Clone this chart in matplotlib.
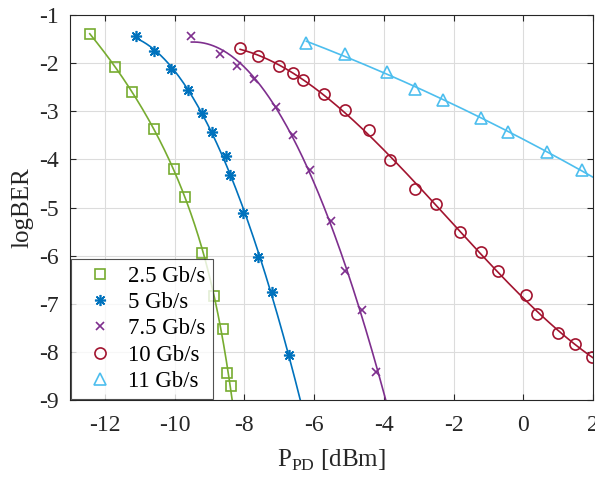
import matplotlib
matplotlib.use('Agg')
import matplotlib.pyplot as plt
import numpy as np

plt.rcParams['font.family'] = ['Liberation Serif', 'DejaVu Serif']
plt.rcParams['mathtext.fontset'] = 'custom'
plt.rcParams['mathtext.rm'] = 'Liberation Serif'
plt.rcParams['axes.unicode_minus'] = False

# measured points, P_PD [dBm] vs logBER
x25 = [-12.43, -11.71, -11.22, -10.60, -10.01, -9.71, -9.21, -8.88, -8.61, -8.51, -8.39]
y25 = [-1.39, -2.09, -2.59, -3.37, -4.20, -4.79, -5.95, -6.84, -7.53, -8.43, -8.70]

x5 = [-11.11, -10.60, -10.11, -9.62, -9.21, -8.92, -8.52, -8.40, -8.04, -7.62, -7.22, -6.72]
y5 = [-1.44, -1.75, -2.12, -2.56, -3.04, -3.44, -3.92, -4.33, -5.11, -6.02, -6.75, -8.07]

x75 = [-9.52, -8.71, -8.20, -7.72, -7.10, -6.61, -6.12, -5.52, -5.10, -4.62, -4.22]
y75 = [-1.44, -1.80, -2.05, -2.34, -2.91, -3.50, -4.22, -5.29, -6.31, -7.12, -8.42]

x10 = [-8.12, -7.62, -7.01, -6.61, -6.31, -5.72, -5.12, -4.42, -3.81, -3.11,
       -2.51, -1.82, -1.22, -0.73, 0.08, 0.38, 0.99, 1.48, 1.97]
y10 = [-1.69, -1.86, -2.07, -2.20, -2.36, -2.64, -2.97, -3.39, -4.02, -4.62,
       -4.93, -5.51, -5.93, -6.32, -6.81, -7.21, -7.61, -7.84, -8.10]

x11 = [-6.22, -5.11, -3.92, -3.11, -2.31, -1.22, -0.43, 0.67, 1.68]
y11 = [-1.59, -1.80, -2.19, -2.53, -2.77, -3.13, -3.43, -3.84, -4.23]

c_green = '#77AC30'
c_blue = '#0072BD'
c_purple = '#7E2F8E'
c_red = '#A2142F'
c_cyan = '#4DBEEE'

fig = plt.figure(figsize=(5.95, 4.82), dpi=100)
ax = fig.add_axes([70 / 595, 82 / 482, 523 / 595, 385 / 482])

# 2.5 Gb/s: fit P as cubic in logBER, down to the bottom edge
p = np.polyfit(y25, x25, 3)
yy = np.linspace(y25[0], -9.3, 300)
ax.plot(np.polyval(p, yy), yy, color=c_green, lw=1.2)

# others: fit logBER as polynomial in P, from the first point onward (clipped)
for xs, ys, col, deg in [(x5, y5, c_blue, 2), (x75, y75, c_purple, 2),
                         (x10, y10, c_red, 3), (x11, y11, c_cyan, 2)]:
    p = np.polyfit(xs, ys, deg)
    xx = np.linspace(xs[0], 2.5, 400)
    ax.plot(xx, np.polyval(p, xx), color=col, lw=1.2)

ax.plot(x25, y25, 's', ls='none', mfc='none', mec=c_green, ms=6.5, mew=1.2, label='2.5 Gb/s')
ax.plot(x5, y5, marker=(8, 2, 0), ls='none', color=c_blue, ms=8, mew=1.2, label='5 Gb/s')
ax.plot(x75, y75, 'x', ls='none', color=c_purple, ms=6, mew=1.2, label='7.5 Gb/s')
ax.plot(x10, y10, 'o', ls='none', mfc='none', mec=c_red, ms=8, mew=1.2, label='10 Gb/s')
ax.plot(x11, y11, '^', ls='none', mfc='none', mec=c_cyan, ms=9, mew=1.2, label='11 Gb/s')

ax.set_xlim(-13, 2)
ax.set_ylim(-9, -1)
ax.set_xticks([-12, -10, -8, -6, -4, -2, 0, 2])
ax.set_yticks(range(-9, 0))
ax.grid(True, color='#dcdcdc', lw=0.8)
ax.set_axisbelow(True)
ax.tick_params(direction='in', top=True, right=True, labelsize=17, colors='#262626',
               length=4, width=0.8)
ax.tick_params(axis='x', pad=11)
ax.tick_params(axis='y', pad=8)
for s in ax.spines.values():
    s.set_color('#262626')
    s.set_linewidth(0.8)

ax.set_xlabel(r'P$_{\rm PD}$ [dBm]', fontsize=18, color='#262626', labelpad=8)
ax.set_ylabel('logBER', fontsize=18, color='#262626', labelpad=4)

leg = ax.legend(loc='lower left', fontsize=16.5, frameon=True, fancybox=False,
                edgecolor='#262626', handlelength=1.9, handletextpad=0.3,
                borderaxespad=0.05, labelspacing=0.23, borderpad=0.3)
leg.get_frame().set_linewidth(0.8)

fig.savefig('out.png', dpi=100)
